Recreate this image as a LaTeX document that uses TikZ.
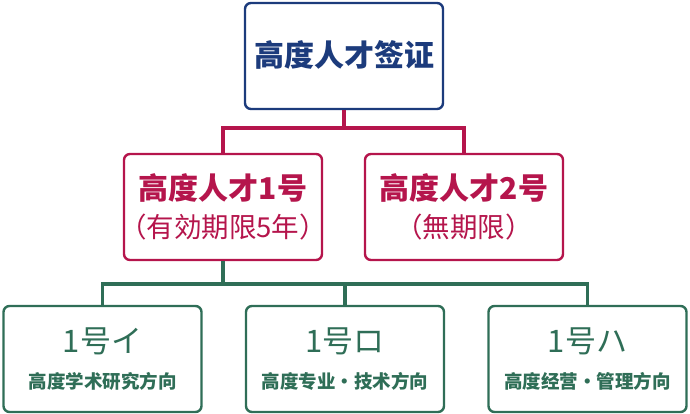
\documentclass[tikz,border=0pt]{standalone}
\usepackage{fontspec}
\usepackage{xcolor}
\usepackage{tikz}
\usetikzlibrary{positioning}
\newfontfamily\cjk{Noto Sans CJK SC}
\definecolor{mNavy}{HTML}{1C3B7C}
\definecolor{mCrimson}{HTML}{B5154C}
\definecolor{mForest}{HTML}{2F6E57}

\begin{document}
\begin{tikzpicture}[x=1pt, y=-1pt, font=\cjk,
  visabox/.style={draw, line width=2.4pt, fill=white, rounded corners=6pt, minimum width=198pt, minimum height=106pt, align=center, inner sep=0pt},
  link/.style={line width=3.2pt}]
\useasboundingbox (0,0) rectangle (690,414);
% top level
\node[visabox, draw=mNavy, text=mNavy, font=\cjk\bfseries\fontsize{30}{34}\selectfont] (visa) at (344,56) {\raisebox{4pt}{高度人才签证}};
% second level
\node[visabox, draw=mCrimson, text=mCrimson] (one) at (223,207) {{\bfseries\fontsize{30}{34}\selectfont 高度人才1号}\\[10pt]{\fontsize{27.5}{30}\selectfont\makebox[180pt]{（有効期限5年）}}};
\node[visabox, draw=mCrimson, text=mCrimson] (two) at (464,207) {{\bfseries\fontsize{30}{34}\selectfont 高度人才2号}\\[10pt]{\fontsize{27.5}{30}\selectfont （無期限）}};
% third level
\node[visabox, draw=mForest, text=mForest] (oneA) at (102.5,359) {{\fontsize{31}{34}\selectfont 1号イ}\\[17pt]{\bfseries\fontsize{18.5}{21}\selectfont 高度学术研究方向}};
\node[visabox, draw=mForest, text=mForest] (oneB) at (345,359) {{\fontsize{31}{34}\selectfont 1号ロ}\\[17pt]{\bfseries\fontsize{18.5}{21}\selectfont 高度专业・技术方向}};
\node[visabox, draw=mForest, text=mForest] (oneC) at (587.5,359) {{\fontsize{31}{34}\selectfont 1号ハ}\\[17pt]{\bfseries\fontsize{18.5}{21}\selectfont 高度经营・管理方向}};
% connectors
\coordinate (splitTop) at (344,128);
\coordinate (splitOne) at (223,284);
\draw[link, mCrimson] (visa.south) -- (splitTop);
\draw[link, mCrimson] (splitTop) -| (one.north);
\draw[link, mCrimson] (splitTop) -| (two.north);
\draw[link, mForest] (one.south) -- (splitOne);
\draw[link, mForest] (splitOne) -| (oneA.north);
\draw[link, mForest] (splitOne) -| (oneB.north);
\draw[link, mForest] (splitOne) -| (oneC.north);
\end{tikzpicture}
\end{document}
